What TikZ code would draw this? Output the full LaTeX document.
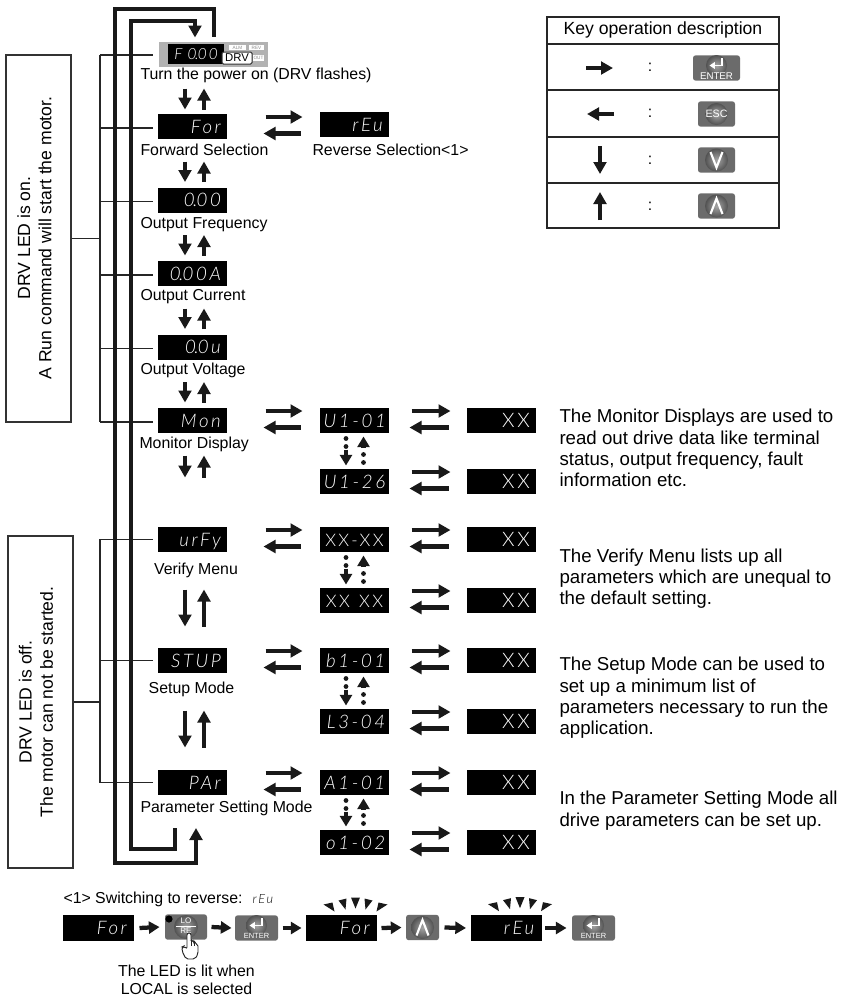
\documentclass[tikz,border=0pt]{standalone}
\usepackage{fontspec}
\setmainfont{Liberation Sans}
\newfontfamily\segfont[ItalicFont={Lato Light Italic},LetterSpace=14]{Lato Light}
\usetikzlibrary{arrows.meta}
\newcommand{\segdot}{\kern-1.2pt.\kern-0.6pt}
\tikzset{every picture/.style={line width=0.75pt}}
\tikzset{
  lbl/.style={inner sep=0.75pt,font=\fontsize{11.9}{14}\selectfont},
  note/.style={inner sep=0.75pt,align=left,font=\fontsize{14}{16}\selectfont},
  disp/.style={fill=black,text=white,inner ysep=0pt,inner xsep=4.6pt,minimum width=51.75pt,minimum height=18.75pt,text width=42.55pt,align=right,text height=10pt,text depth=0pt,font=\segfont\itshape\fontsize{14}{14}\selectfont},
  dispw/.style={disp,inner xsep=2.8pt,text width=46.15pt},
  dispx/.style={disp,font=\segfont\fontsize{15}{15}\selectfont},
  dispc/.style={disp,inner xsep=1pt,text width=49.75pt,align=center,font=\segfont\fontsize{13}{13}\selectfont},
  ledbox/.style={draw=black!80,line width=0.9pt},
  thinline/.style={draw=black!85,line width=0.8pt},
  boldline/.style={draw=black!85,line width=1.2pt},
  fatarrow/.style={-{Triangle[width=9.5pt,length=9pt]},line width=3.5pt,black!90},
  seqarrow/.style={-{Triangle[width=9pt,length=8pt]},line width=3.2pt,black!90},
  route/.style={line width=3.5pt,black!90},
  keyshape/.style={fill=black!58,rounded corners=2pt,inner sep=0pt,minimum height=19pt},
  spark/.style={fill=black!90},
  pics/enterkey/.style n args={2}{code={
    \node (-box) [keyshape,minimum width=#1*0.75pt] {};
    \shade [inner color=black!35,outer color=black!68] (0,2.5) circle (10.5);
    \draw [white,line width=1.4pt,-{Triangle[width=5pt,length=4pt]}] (5.5,10) -- (5.5,2.5) -- (-7,2.5);
    \node (-lbl) [inner sep=0pt,text=white,font=\fontsize{#2}{#2}\selectfont] at (0,-8) {ENTER};
  }},
  pics/esckey/.style={code={
    \node (-box) [keyshape,minimum width=#1*0.75pt] {};
    \shade [inner color=black!35,outer color=black!68] (0,0) circle (11);
    \node (-lbl) [inner sep=0pt,text=white,font=\fontsize{8}{8}\selectfont] at (0,0) {ESC};
  }},
  pics/downkey/.style={code={
    \node (-box) [keyshape,minimum width=#1*0.75pt] {};
    \shade [inner color=black!35,outer color=black!68] (0,0) circle (11.5);
    \draw [white,line width=1.6pt] (-6,8) -- (0,-7.5) -- (6,8);
  }},
  pics/upkey/.style={code={
    \node (-box) [keyshape,minimum width=#1*0.75pt] {};
    \shade [inner color=black!35,outer color=black!68] (0,0) circle (11.5);
    \draw [white,line width=1.6pt] (-6,-8) -- (0,7.5) -- (6,-8);
  }},
}
\newcommand{\swap}[4]{%
  \draw [fatarrow] ([shift={(#3,-9.5)}]#1.east) -- ([shift={(-#4,-9.5)}]#2.west);
  \draw [fatarrow] ([shift={(-#4-2,7)}]#2.west) -- ([shift={(#3-2,7)}]#1.east);}
\newcommand{\updown}[4]{%
  \draw [fatarrow] ([shift={(-7.5,#3)}]#1.south) -- ([shift={(-7.5,#4)}]#2.north);
  \draw [fatarrow] ([shift={(11.5,#4)}]#2.north) -- ([shift={(11.5,#3)}]#1.south);}
\newcommand{\dotpair}[2]{%
  \fill [black!90] ([shift={(-8.5,5)}]#1.south) circle (2.4) ([shift={(-8.5,13)}]#1.south) circle (2.4);
  \draw [seqarrow] ([shift={(-8.5,16)}]#1.south) -- ([shift={(-8.5,-3)}]#2.north);
  \draw [seqarrow] ([shift={(9,14)}]#1.south) -- ([shift={(9,3)}]#1.south);
  \fill [black!90] ([shift={(9,-14)}]#2.north) circle (2.4) ([shift={(9,-6)}]#2.north) circle (2.4);}
\newcommand{\fan}[1]{%
  \begin{scope}[shift={(#1.north)},xshift=10.5pt]
  \fill [spark] (-4.5,-17) -- (4.5,-17) -- (0,-6) -- cycle;
  \fill [spark] (-17,-14) -- (-9,-16) -- (-10,-5) -- cycle;
  \fill [spark] (17,-14) -- (9,-16) -- (10,-5) -- cycle;
  \fill [spark] (-32,-10) -- (-23,-12) -- (-21,-3) -- cycle;
  \fill [spark] (32,-10) -- (23,-12) -- (21,-3) -- cycle;
  \end{scope}}

\begin{document}
\begin{tikzpicture}[x=0.75pt,y=0.75pt,yscale=-1,xscale=1]
\useasboundingbox (0,0) rectangle (843,997);

%Shape: LED boxes
\draw (38.5,238.5) node (onbox) [ledbox,minimum width=48.75pt,minimum height=275.25pt] {};
\draw (40.5,702) node (offbox) [ledbox,minimum width=48.75pt,minimum height=249pt] {};
\coordinate (brkA) at (100,55);
\coordinate (brkB) at (100,422);
\coordinate (brkC) at (100,539);
\coordinate (brkD) at (100,782.5);

% Text Node
\draw (34.5,238) node (ontext) [rotate=90,align=center,inner sep=0.75pt,font=\fontsize{13.2}{16}\selectfont] {DRV LED is on.\\A Run command will start the motor.};
% Text Node
\draw (36,702) node (offtext) [rotate=90,align=center,inner sep=0.75pt,font=\fontsize{13.2}{16}\selectfont] {DRV LED is off.\\The motor can not be started.};

%Shape: power display
\draw (213.5,54.5) node (pow) [fill=black!30,inner sep=0pt,minimum width=81.75pt,minimum height=18.75pt] {};
\draw (196,54) node (powdisp) [fill=black,text=white,inner sep=0pt,minimum width=42pt,minimum height=15pt,font=\segfont\itshape\fontsize{11.5}{11.5}\selectfont] {F\hspace{4pt}0\segdot00\hspace{1pt}};
\draw (237.5,47.5) node (alm) [fill=white,text=black!45,inner sep=0pt,minimum width=12.75pt,minimum height=3.75pt,font=\fontsize{3.5}{3.5}\selectfont] {ALM};
\draw (256.5,47.5) node (revled) [fill=white,text=black!45,inner sep=0pt,minimum width=11.25pt,minimum height=3.75pt,font=\fontsize{3.5}{3.5}\selectfont] {REV};
\draw (258.5,58) node (outled) [fill=white,text=black!45,inner sep=0pt,minimum width=8.25pt,minimum height=4.5pt,font=\fontsize{3.5}{3.5}\selectfont] {OUT};
\draw (237,58) node (drv) [fill=white,draw=black!80,rounded corners=1pt,inner sep=0pt,minimum width=22.5pt,minimum height=9pt,font=\fontsize{8.5}{8.5}\selectfont] {DRV};

%Shape: main column displays
\draw (192.5,126.5) node (fwd) [disp] {For};
\draw (192.5,200) node (freq) [disp] {0\segdot00};
\draw (192.5,273.5) node (cur) [disp] {0\segdot00A};
\draw (192.5,347) node (volt) [disp] {0\segdot0u};
\draw (192.5,420.5) node (mon) [disp] {Mon};
\draw (192.5,539.5) node (vfy) [disp] {urFy};
\draw (192.5,660.5) node (stp) [disp] {STUP};
\draw (192.5,782.5) node (par) [disp] {PAr};
\draw (354.5,124.5) node (rev) [disp] {rEu};

%Shape: second column displays
\draw (354.5,420.5) node (monA) [dispw] {U1-01};
\draw (354.5,481.5) node (monB) [dispw] {U1-26};
\draw (354.5,539.5) node (vfyA) [dispc] {\mbox{XX-XX}};
\draw (354.5,600.5) node (vfyB) [dispc] {\mbox{XX\hspace{7pt}XX}};
\draw (354.5,660.5) node (stpA) [dispw] {b1-01};
\draw (354.5,721.5) node (stpB) [dispw] {L3-04};
\draw (354.5,782.5) node (parA) [dispw] {A1-01};
\draw (354.5,842.5) node (parB) [dispw] {o1-02};

%Shape: third column displays
\draw (501.5,420.5) node (monX) [dispx] {XX};
\draw (501.5,481.5) node (monY) [dispx] {XX};
\draw (501.5,539.5) node (vfyX) [dispx] {XX};
\draw (501.5,600.5) node (vfyY) [dispx] {XX};
\draw (501.5,660.5) node (stpX) [dispx] {XX};
\draw (501.5,721.5) node (stpY) [dispx] {XX};
\draw (501.5,782.5) node (parX) [dispx] {XX};
\draw (501.5,842.5) node (parY) [dispx] {XX};

%Straight Lines: brackets
\draw [thinline] (onbox.east) -- (onbox.east -| brkA);
\draw [thinline] (offbox.east) -- (offbox.east -| brkC);
\draw [thinline] (brkA) -- (brkB);
\draw [thinline] (brkC) -- (brkD);
\draw [boldline] (brkA) -- (brkA -| 153,0);
\draw [thinline] ([shift={(-5,1.5)}]fwd.west) -- ([shift={(-58,1.5)}]fwd.west);
\draw [thinline] ([shift={(-5,1.5)}]freq.west) -- ([shift={(-58,1.5)}]freq.west);
\draw [thinline] ([shift={(-5,1.5)}]cur.west) -- ([shift={(-58,1.5)}]cur.west);
\draw [thinline] ([shift={(-5,1.5)}]volt.west) -- ([shift={(-58,1.5)}]volt.west);
\draw [thinline] ([shift={(-5,1.5)}]mon.west) -- ([shift={(-58,1.5)}]mon.west);
\draw [boldline] ([xshift=-3.75pt]vfy.west) -- (vfy.west -| brkC);
\draw [thinline] ([xshift=-3.75pt]stp.west) -- (stp.west -| brkC);
\draw [thinline] ([xshift=-3.75pt]par.west) -- (par.west -| brkC);

%Straight Lines: outer and inner routes
\draw [route,{Triangle[width=9.5pt,length=9pt]}-] (196,828) -- (196,863) -- (115,863) -- (115,9) -- (214,9) -- ([shift={(0.5,-5)}]pow.north);
\draw [route,-{Triangle[width=9.5pt,length=9pt]}] (175,828) -- (175,849) -- (131,849) -- (131,21) -- (195,21) -- ([shift={(-18.5,-4)}]pow.north);

%Straight Lines: main column arrows
\draw [fatarrow] ([shift={(-28.5,21)}]pow.south) -- ([shift={(-7.5,-4)}]fwd.north);
\draw [fatarrow] ([shift={(11.5,-4)}]fwd.north) -- ([shift={(-9.5,21)}]pow.south);
\updown{fwd}{freq}{22}{-5}
\updown{freq}{cur}{22}{-5}
\updown{cur}{volt}{22}{-5}
\updown{volt}{mon}{22}{-5}
\draw [fatarrow] ([shift={(-7.5,22)}]mon.south) -- ([shift={(-7.5,44)}]mon.south);
\draw [fatarrow] ([shift={(11.5,44)}]mon.south) -- ([shift={(11.5,22)}]mon.south);
\updown{vfy}{stp}{37}{-21}
\updown{stp}{par}{37}{-22}

%Straight Lines: horizontal pairs
\draw [fatarrow] ([shift={(38,-9.5)}]fwd.east) -- ([shift={(-17,-7.5)}]rev.west);
\draw [fatarrow] ([shift={(-19,9)}]rev.west) -- ([shift={(36,7)}]fwd.east);
\swap{mon}{monA}{38}{17}
\swap{vfy}{vfyA}{38}{17}
\swap{stp}{stpA}{38}{17}
\swap{par}{parA}{38}{17}
\swap{monA}{monX}{22}{16}
\swap{monB}{monY}{22}{16}
\swap{vfyA}{vfyX}{22}{16}
\swap{vfyB}{vfyY}{22}{16}
\swap{stpA}{stpX}{22}{16}
\swap{stpB}{stpY}{22}{16}
\swap{parA}{parX}{22}{16}
\swap{parB}{parY}{22}{16}

%Straight Lines: dotted pairs
\dotpair{monA}{monB}
\dotpair{vfyA}{vfyB}
\dotpair{stpA}{stpB}
\dotpair{parA}{parB}

% Text Node
\draw (139,75) node (lblPow) [anchor=west,lbl] {Turn the power on (DRV flashes)};
% Text Node
\draw (139,150) node (lblFwd) [anchor=west,lbl] {Forward Selection};
% Text Node
\draw (311,150) node (lblRev) [anchor=west,lbl] {Reverse Selection<1>};
% Text Node
\draw (139,224.5) node (lblFreq) [anchor=west,lbl] {Output Frequency};
% Text Node
\draw (139,297) node (lblCur) [anchor=west,lbl] {Output Current};
% Text Node
\draw (139,370.5) node (lblVolt) [anchor=west,lbl] {Output Voltage};
% Text Node
\draw (138,444) node (lblMon) [anchor=west,lbl] {Monitor Display};
% Text Node
\draw (196,570) node (lblVfy) [lbl] {Verify Menu};
% Text Node
\draw (191.5,689) node (lblStp) [lbl] {Setup Mode};
% Text Node
\draw (139,808) node (lblPar) [anchor=west,lbl] {Parameter Setting Mode};

% Text Node
\draw (558,448) node (noteMon) [anchor=west,note] {The Monitor Displays are used to\\read out drive data like terminal\\status, output frequency, fault\\information etc.};
% Text Node
\draw (558,578.5) node (noteVfy) [anchor=west,note] {The Verify Menu lists up all\\parameters which are unequal to\\the default setting.};
% Text Node
\draw (558,698) node (noteStp) [anchor=west,note] {The Setup Mode can be used to\\set up a minimum list of\\parameters necessary to run the\\application.};
% Text Node
\draw (558,810.5) node (notePar) [anchor=west,note] {In the Parameter Setting Mode all\\drive parameters can be set up.};

%Shape: key table
\draw (663,122.5) node (keytbl) [draw=black!85,line width=0.9pt,inner sep=0pt,minimum width=174pt,minimum height=158.25pt] {};
\draw [line width=0.9pt,black!85] (547,44) -- (779,44);
\draw [line width=0.9pt,black!85] (547,90) -- (779,90);
\draw [line width=0.9pt,black!85] (547,137) -- (779,137);
\draw [line width=0.9pt,black!85] (547,183) -- (779,183);
% Text Node
\draw (663,30) node (keyttl) [inner sep=0.75pt,font=\fontsize{13.2}{15}\selectfont] {Key operation description};
\draw [fatarrow] (586,68) -- (613,68);
\draw [fatarrow] (614,114) -- (587,114);
\draw [fatarrow] (600,146) -- (600,174);
\draw [fatarrow] (600,220) -- (600,192);
\draw (650,67) node (colA) [lbl] {:};
\draw (650,113) node (colB) [lbl] {:};
\draw (650,160) node (colC) [lbl] {:};
\draw (650,206) node (colD) [lbl] {:};
\pic (keyEnter) at (716.5,68) {enterkey={47}{7.3}};
\pic (keyEsc) at (716.5,114) {esckey=37};
\pic (keyDown) at (716.5,160) {downkey=37};
\pic (keyUp) at (716.5,206) {upkey=37};

%Shape: bottom sequence
% Text Node
\draw (62,899) node (seqttl) [anchor=west,lbl] {<1> Switching to reverse:};
% Text Node
\draw (252,899.5) node (seqrev) [anchor=west,inner sep=0pt,font=\segfont\itshape\fontsize{9.5}{9.5}\selectfont] {rEu};
\draw (98.5,928) node (seqA) [disp,minimum width=53.25pt,minimum height=19.5pt] {For};
\draw (186,927) node (seqLo) [keyshape,minimum width=31.5pt] {};
\pic (seqEntA) at (256.5,928) {enterkey={43}{5.6}};
\draw (341.5,928) node (seqB) [disp,minimum width=53.25pt,minimum height=19.5pt] {For};
\pic (seqUp) at (422.5,927.5) {upkey=33};
\draw (506,928) node (seqC) [disp,minimum width=53.25pt,minimum height=20pt] {rEu};
\pic (seqEntB) at (593.5,928) {enterkey={43}{5.6}};
\draw [seqarrow] ([xshift=3.75pt]seqA.east) -- ([xshift=-3.75pt]seqLo.west);
\draw [seqarrow] ([xshift=3pt]seqLo.east) -- ([xshift=-2.25pt]seqEntA-box.west);
\draw [seqarrow] ([xshift=3pt]seqEntA-box.east) -- ([xshift=-3pt]seqB.west);
\draw [seqarrow] ([xshift=3pt]seqB.east) -- ([xshift=-3pt]seqUp-box.west);
\draw [seqarrow] ([xshift=3.75pt]seqUp-box.east) -- ([xshift=-3pt]seqC.west);
\draw [seqarrow] ([xshift=2.25pt]seqC.east) -- ([xshift=-3.75pt]seqEntB-box.west);
\fan{seqB}
\fan{seqC}

%Shape: LO/RE key, LED and hand
\shade [inner color=black!35,outer color=black!68] (186,927) circle (12);
\fill [black] (169,919) circle (3.6);
\draw [white,line width=0.7pt] (176,926) -- (196,926);
\draw (186,921) node (loTxt) [inner sep=0pt,text=white,font=\fontsize{6}{6}\selectfont] {LO};
\draw (186,931) node (reTxt) [inner sep=0pt,text=white,font=\fontsize{6}{6}\selectfont] {RE};
\draw [fill=white,draw=black!85,rounded corners=1.5pt,line width=0.7pt] (187,933) -- (191,933) -- (191,941) -- (194,941) -- (194,943) -- (198,944) -- (198,954) -- (195,959) -- (186,959) -- (182,951) -- (182,947) -- (184,946) -- (187,949) -- cycle;
\draw [black!85,line width=0.5pt] (191,941) -- (191,946) (194,942) -- (194,946);

% Text Node
\draw (186.5,980) node (seqnote) [align=center,inner sep=0.75pt,font=\fontsize{11.9}{13.5}\selectfont] {The LED is lit when\\LOCAL is selected};

\end{tikzpicture}
\end{document}
